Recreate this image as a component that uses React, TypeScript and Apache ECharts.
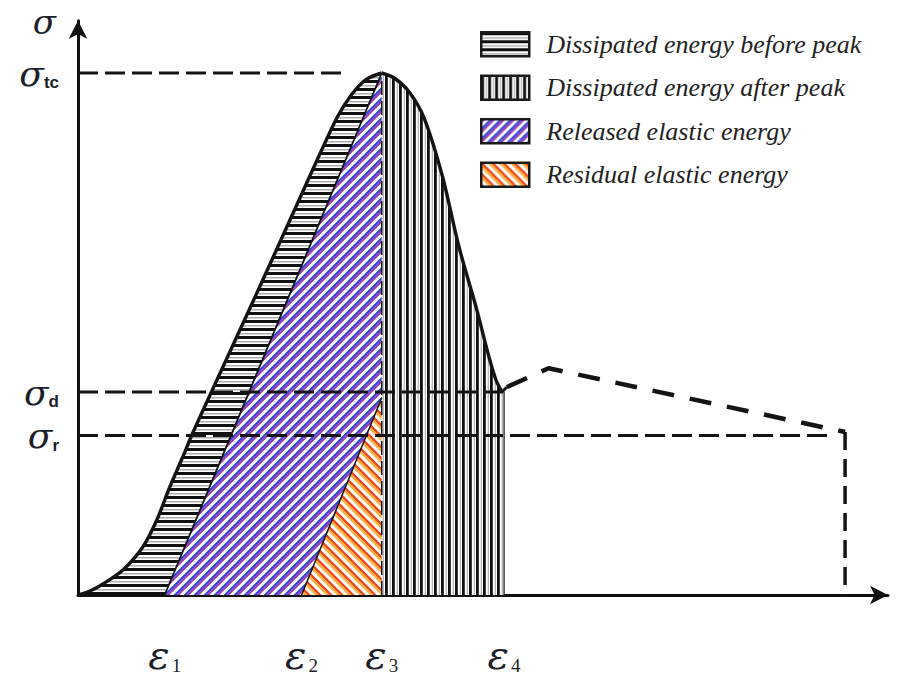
import React, { useEffect, useRef } from 'react';
import * as echarts from 'echarts';

// ---------- data (schematic units: strain 0–100, stress 0–99) ----------
const strainTicks = [10.7, 27.6, 37.5, 52.6]; // ε1, ε2, ε3, ε4
const strainTickSubs = ['1', '2', '3', '4'];
const stressTicks = [27.5, 35, 90, 98.8]; // σr, σd, σtc, σ
const stressTickSubs = ['r', 'd', 'tc', ''];

const peak = [37.5, 90];
const residualApexY = 34;

const prePeakCurve = [
  [0, 0], [1.48, 0.69], [3.08, 1.9], [5.54, 4.31], [8.0, 8.28], [9.73, 12.93],
  [11.33, 18.62], [12.93, 23.79], [14.16, 27.93], [17.49, 38.1], [21.18, 49.31],
  [24.38, 59.14], [27.34, 68.28], [29.8, 75.86], [32.02, 82.41], [33.74, 86.21],
  [35.47, 88.79], [37.5, 90],
];
const postPeakCurve = [
  [37.5, 90], [39.04, 89.14], [40.89, 86.72], [42.73, 82.24], [44.95, 72.41],
  [47.04, 60], [49.14, 49.66], [50.74, 41.03], [51.6, 37.07], [52.34, 35],
];
const postPeakKink = [[52.34, 35], [52.96, 35.86]];
const residualDashed = [[52.96, 35.86], [58.1, 39.1], [94.7, 28.1]];
const residualDrop = [[94.7, 28.1], [94.7, 0]];

const sigmaTcLine = [[0, 90], [33.3, 90]];
const sigmaDLine = [[0, 35], [52.6, 35]];
const sigmaRLine = [[0, 27.5], [92.5, 27.5]];

const legendNames = [
  'Dissipated energy before peak',
  'Dissipated energy after peak',
  'Released elastic energy',
  'Residual elastic energy',
];

// ---------- hatch patterns ----------
const tile = (w: number, h: number, body: string) => ({
  image:
    'data:image/svg+xml;charset=utf-8,' +
    encodeURIComponent(
      `<svg xmlns="http://www.w3.org/2000/svg" width="${w}" height="${h}"><rect width="${w}" height="${h}" fill="#ffffff"/>${body}</svg>`
    ),
  repeat: 'repeat',
  imageWidth: w,
  imageHeight: h,
});

const diagLines = (size: number, offset: number, color: string, width: number, rising: boolean) => {
  let d = '';
  for (let k = -2; k <= 3; k++) {
    const c = k * size + offset;
    if (rising) d += `M${-size},${c + size} L${2 * size},${c - 2 * size} `;
    else d += `M${-size},${c - size} L${2 * size},${c + 2 * size} `;
  }
  return `<path d="${d}" stroke="${color}" stroke-width="${width}" fill="none"/>`;
};

const horizPattern = tile(8, 8, '<rect x="0" y="0" width="8" height="3" fill="#101010"/><rect x="0" y="5.4" width="8" height="0.9" fill="#777"/>');
const vertPattern = tile(7, 8, '<rect x="0" y="0" width="2.8" height="8" fill="#101010"/><rect x="4.8" y="0" width="0.8" height="8" fill="#888"/>');
const bluePattern = tile(10, 10, diagLines(10, 0, '#2a44d8', 2.1, true) + diagLines(10, 2.9, '#9a3cb4', 2.1, true));
const orangePattern = tile(11, 11, diagLines(11, 0, '#f0441a', 2.4, false) + diagLines(11, 3.3, '#fbb03c', 2.4, false));

const legendPatterns = [horizPattern, vertPattern, bluePattern, orangePattern];

export default function App() {
  const ref = useRef<HTMLDivElement>(null);

  useEffect(() => {
    if (!ref.current) return;
    const chart = echarts.init(ref.current, undefined, { renderer: 'svg' });

    const [e1, e2, e3, e4] = strainTicks;
    const regionBefore = [...prePeakCurve, [e1, 0]];
    const regionAfter = [...postPeakCurve, [e4, 35], [e4, 0], [e3, 0]];
    const regionReleased = [[e1, 0], peak, [e3, residualApexY], [e2, 0]];
    const regionResidual = [[e2, 0], [e3, residualApexY], [e3, 0]];

    const regionSeries = (name: string, poly: number[][], fill: any) => ({
      type: 'custom',
      name,
      data: poly,
      itemStyle: { color: fill },
      z: 2,
      renderItem: (params: any, api: any) => {
        if (params.dataIndex !== 0) return null;
        const pts = poly.map((p) => api.coord(p));
        return {
          type: 'polygon',
          shape: { points: pts },
          style: { fill, stroke: null, lineWidth: 0 },
        };
      },
    });

    const lineSeries = (data: number[][], width: number, type: any, z = 4, smooth: any = false) => ({
      type: 'line',
      data,
      symbol: 'none',
      silent: true,
      smooth,
      z,
      lineStyle: { color: '#141414', width, type, cap: 'butt' },
    });

    const findIdx = (arr: number[], v: number) => arr.findIndex((a) => Math.abs(a - v) < 1e-6);

    const option: any = {
      animation: false,
      backgroundColor: '#ffffff',
      grid: { left: 78, top: 20.8, width: 810, height: 574.2 },
      xAxis: {
        type: 'value',
        min: 0,
        max: 100,
        splitLine: { show: false },
        axisTick: { show: false },
        axisLine: {
          show: true,
          symbol: ['none', 'arrow'],
          symbolSize: [14, 18],
          lineStyle: { color: '#111', width: 3 },
        },
        axisLabel: {
          customValues: strainTicks,
          margin: 40,
          formatter: (v: number) => {
            const i = findIdx(strainTicks, v);
            return `{e|ε}{n|${strainTickSubs[i] ?? ''}}`;
          },
          rich: {
            e: { fontFamily: 'DejaVu Serif', fontStyle: 'italic', fontSize: 40, color: '#1c1f2a', lineHeight: 40 },
            n: { fontFamily: 'Liberation Serif', fontSize: 19, color: '#1c1f2a', verticalAlign: 'bottom', lineHeight: 40, padding: [0, 0, 0, 2] },
          },
        },
      },
      yAxis: {
        type: 'value',
        min: 0,
        max: 99,
        splitLine: { show: false },
        axisTick: { show: false },
        axisLine: {
          show: true,
          symbol: ['none', 'arrow'],
          symbolSize: [14, 18],
          lineStyle: { color: '#111', width: 3 },
        },
        axisLabel: {
          customValues: stressTicks,
          margin: 19,
          formatter: (v: number) => {
            const i = findIdx(stressTicks, v);
            const s = stressTickSubs[i] ?? '';
            return s ? `{s|σ}{t|${s}}` : `{top|σ}`;
          },
          rich: {
            s: { fontFamily: 'DejaVu Serif', fontStyle: 'italic', fontSize: 36, color: '#1c1f2a', lineHeight: 36 },
            top: { fontFamily: 'DejaVu Serif', fontStyle: 'italic', fontSize: 34, color: '#1c1f2a', lineHeight: 36, padding: [0, 3, 0, 0] },
            t: { fontFamily: 'Liberation Sans', fontWeight: 'bold', fontSize: 17, color: '#1c1f2a', verticalAlign: 'bottom', lineHeight: 32 },
          },
        },
      },
      legend: {
        orient: 'vertical',
        left: 475,
        top: 26,
        icon: 'rect',
        itemWidth: 48,
        itemHeight: 24,
        itemGap: 17,
        selectedMode: false,
        textStyle: {
          fontFamily: 'Liberation Serif',
          fontStyle: 'italic',
          fontSize: 26,
          lineHeight: 24,
          color: '#222',
          padding: [0, 0, 0, 12],
        },
        data: legendNames.map((name, i) => ({
          name,
          itemStyle: { color: legendPatterns[i], borderColor: '#1a1a1a', borderWidth: 2.5 },
        })),
      },
      series: [
        regionSeries(legendNames[0], regionBefore, horizPattern),
        regionSeries(legendNames[1], regionAfter, vertPattern),
        regionSeries(legendNames[2], regionReleased, bluePattern),
        regionSeries(legendNames[3], regionResidual, orangePattern),
        lineSeries([[e1, 0], peak], 1.8, 'solid', 3),
        lineSeries([[e2, 0], [e3, residualApexY]], 1.5, 'solid', 3),
        lineSeries([[e3, 0], peak], 1.5, [14, 6], 3),
        lineSeries([[e4, 0], [e4, 35]], 1.2, 'solid', 3),
        lineSeries(sigmaTcLine, 3, [20, 7]),
        lineSeries(sigmaDLine, 3, [20, 7]),
        lineSeries(sigmaRLine, 3, [20, 7]),
        lineSeries(prePeakCurve, 3.4, 'solid', 5, 0.3),
        lineSeries(postPeakCurve, 3.4, 'solid', 5, 0.3),
        lineSeries(postPeakKink, 3, 'solid', 5),
        lineSeries(residualDashed, 4.5, [22, 16], 5),
        lineSeries(residualDrop, 3.5, [18, 9], 5),
      ],
    };

    chart.setOption(option);
    return () => chart.dispose();
  }, []);

  return (
    <div
      ref={ref}
      style={{ position: 'fixed', left: 0, top: 0, width: 899, height: 682, background: '#fff' }}
    />
  );
}
